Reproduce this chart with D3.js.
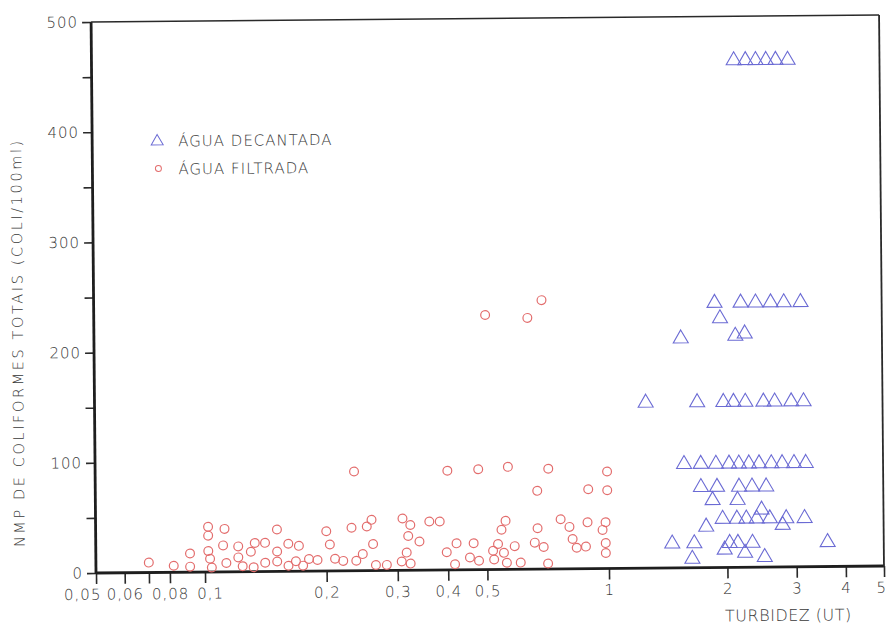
<!DOCTYPE html>
<html>
<head>
<meta charset="utf-8">
<script src="https://cdn.jsdelivr.net/npm/d3@7"></script>
<style>
  body { margin: 0; background: #fff; }
  svg text { font-family: "DejaVu Sans", sans-serif; fill: #3a3a3a; font-weight: 200; }
</style>
</head>
<body>
<svg id="chart" width="888" height="626"></svg>
<script>
// turbidity (UT) vs coliform MPN
var decantadaTurbidez = [2.13, 2.28, 2.42, 2.57, 2.72, 2.92,
  1.88, 2.19, 2.39, 2.61, 2.82, 3.11, 1.94,
  1.54, 2.12, 2.24,
  1.25, 1.69, 1.97, 2.09, 2.24, 2.49, 2.66, 2.93, 3.15,
  1.56, 1.72, 1.88, 2.03, 2.15, 2.28, 2.42, 2.60, 2.77, 2.97, 3.18,
  1.72, 1.89, 2.15, 2.32, 2.52,
  1.84, 2.13, 2.45,
  1.95, 2.12, 2.24, 2.38, 2.57, 2.83, 3.15,
  1.77, 2.77,
  1.45, 1.65, 2.03, 2.13, 2.32, 3.60,
  1.97, 2.22, 1.63, 2.49];
var decantadaNMP = [460, 460, 460, 460, 460, 460,
  240, 240, 240, 240, 240, 240, 226,
  208, 210, 212,
  150, 150, 150, 150, 150, 150, 150, 150, 150,
  94, 94, 94, 94, 94, 94, 94, 94, 94, 94, 94,
  73, 73, 73, 73, 73,
  61, 61, 52,
  44, 44, 44, 44, 44, 44, 44,
  37, 38,
  22, 22, 22, 22, 22, 22,
  16, 13, 8, 9];

var filtradaTurbidez = [0.070, 0.082, 0.091, 0.091, 0.102, 0.102, 0.112, 0.151, 0.200, 0.231,
  0.252, 0.259, 0.111, 0.121, 0.133, 0.141, 0.161, 0.171, 0.204, 0.261,
  0.102, 0.130, 0.151, 0.246, 0.103, 0.104, 0.113, 0.121, 0.124, 0.132,
  0.141, 0.151, 0.161, 0.168, 0.175, 0.181, 0.190, 0.210, 0.220, 0.237,
  0.265, 0.235, 0.282, 0.307, 0.316, 0.323, 0.309, 0.323, 0.319, 0.340,
  0.360, 0.382, 0.397,
  0.400, 0.477, 0.565, 0.711, 0.994, 0.667, 0.892, 0.994,
  0.556, 0.543, 0.667, 0.761, 0.800, 0.887, 0.983, 0.966,
  0.420, 0.463, 0.532, 0.585, 0.656, 0.690, 0.814, 0.833, 0.878, 0.983, 0.983,
  0.416, 0.453, 0.477, 0.517, 0.550, 0.520, 0.559, 0.605, 0.707,
  0.50, 0.636, 0.69];
var filtradaNMP = [9, 6, 17, 5, 41, 33, 39, 38, 36, 39,
  40, 46, 24, 23, 26, 26, 25, 23, 24, 24,
  19, 18, 18, 15, 12, 4, 8, 13, 5, 4,
  8, 9, 5, 9, 5, 11, 10, 11, 9, 9,
  5, 90, 5, 8, 16, 6, 47, 41, 31, 26,
  44, 44, 16,
  90, 91, 93, 91, 88, 71, 72, 71,
  44, 36, 37, 45, 38, 42, 42, 35,
  24, 24, 23, 21, 24, 20, 27, 19, 20, 23, 14,
  5, 11, 8, 17, 15, 9, 6, 6, 5,
  231, 228, 244];

var xTicks = [0.05, 0.06, 0.07, 0.08, 0.1, 0.2, 0.3, 0.4, 0.5, 1, 2, 3, 4, 5];
var xTickLabels = ["0,05", "0,06", "", "0,08", "0,1", "0,2", "0,3", "0,4", "0,5", "1", "2", "3", "4", "5"];
var yTicks = [0, 50, 100, 150, 200, 250, 300, 350, 400, 450, 500];

var legendLabels = ["ÁGUA DECANTADA", "ÁGUA FILTRADA"];

var box = { left: 96, right: 884, top: 22, bottom: 573 };
var blue = "#6b6bd4", red = "#e36d6d";

var svg = d3.select("#chart");

// the scan is tilted a little, so the whole drawing is turned with it
var g = svg.append("g")
    .attr("transform", "rotate(-0.51," + box.left + "," + box.bottom + ")");

// the original axis is log from 0.1 up, squeezed below 0.1
var x = d3.scaleLog()
    .domain([0.05, 0.1, 1, 5])
    .range([box.left, 205, 609, box.right]);

var y = d3.scaleLinear()
    .domain([0, 500])
    .range([box.bottom, box.top]);

// ****************** axes ***************************

var yAxis = g.append("g")
    .attr("transform", "translate(" + box.left + ",0)")
    .call(d3.axisLeft(y)
      .tickValues(yTicks)
      .tickSize(9)
      .tickPadding(4)
      .tickFormat(function(d) { return d % 100 === 0 ? d : ""; }));

var xAxis = g.append("g")
    .attr("transform", "translate(0," + box.bottom + ")")
    .call(d3.axisBottom(x)
      .tickValues(xTicks)
      .tickSize(11)
      .tickPadding(5)
      .tickFormat(function(d, i) { return xTickLabels[i]; }));

[xAxis, yAxis].forEach(function(a) {
  a.select(".domain").remove();
  a.selectAll(".tick line").attr("stroke", "#2a2a2a").attr("stroke-width", 1.6);
  a.selectAll(".tick text")
    .attr("fill", "#3a3a3a")
    .style("font-size", "15px")
    .style("letter-spacing", "1px");
});

// first label sits left of its tick so it does not run into 0,06
xAxis.selectAll(".tick text").filter(function(d, i) { return i === 0; }).attr("dx", -14);
xAxis.selectAll(".tick text").filter(function(d, i) { return i === 4; }).attr("dx", 5);
xAxis.selectAll(".tick text").filter(function(d, i) { return i === xTicks.length - 1; }).attr("dx", -3);

// frame: heavy left/bottom, lighter top/right
g.append("line").attr("x1", box.left).attr("x2", box.left).attr("y1", box.top).attr("y2", box.bottom + 1)
    .attr("stroke", "#1e1e1e").attr("stroke-width", 2.8);
g.append("line").attr("x1", box.left).attr("x2", box.right).attr("y1", box.bottom).attr("y2", box.bottom)
    .attr("stroke", "#1e1e1e").attr("stroke-width", 2.8);
g.append("line").attr("x1", box.left).attr("x2", box.right).attr("y1", box.top).attr("y2", box.top)
    .attr("stroke", "#2a2a2a").attr("stroke-width", 1.6);
g.append("line").attr("x1", box.right).attr("x2", box.right).attr("y1", box.top).attr("y2", box.bottom)
    .attr("stroke", "#2a2a2a").attr("stroke-width", 1.8);

g.append("text")
    .attr("transform", "translate(25,342) rotate(-90)")
    .attr("text-anchor", "middle")
    .style("font-size", "14.5px")
    .style("letter-spacing", "2.6px")
    .text("NMP DE COLIFORMES TOTAIS (COLI/100ml)");

g.append("text")
    .attr("x", 788)
    .attr("y", 627)
    .attr("text-anchor", "middle")
    .style("font-size", "16px")
    .style("letter-spacing", "0.5px")
    .text("TURBIDEZ (UT)");

// ****************** points ***************************

var tri = d3.symbol().type(d3.symbolTriangle).size(97);

g.append("g").selectAll("path")
    .data(decantadaTurbidez)
    .join("path")
    .attr("d", tri)
    .attr("transform", function(d, i) {
      return "translate(" + x(d) + "," + y(decantadaNMP[i]) + ")";
    })
    .attr("fill", "none")
    .attr("stroke", blue)
    .attr("stroke-width", 1.1);

g.append("g").selectAll("circle")
    .data(filtradaTurbidez)
    .join("circle")
    .attr("cx", function(d) { return x(d); })
    .attr("cy", function(d, i) { return y(filtradaNMP[i]); })
    .attr("r", 4.4)
    .attr("fill", "none")
    .attr("stroke", red)
    .attr("stroke-width", 1.2);

// ****************** legend ***************************

var legend = g.append("g").attr("transform", "translate(161,142)");

legend.append("path")
    .attr("d", d3.symbol().type(d3.symbolTriangle).size(62))
    .attr("fill", "none")
    .attr("stroke", blue)
    .attr("stroke-width", 1);

legend.append("circle")
    .attr("cx", 1)
    .attr("cy", 27)
    .attr("r", 3)
    .attr("fill", "none")
    .attr("stroke", red)
    .attr("stroke-width", 1);

legend.selectAll("text")
    .data(legendLabels)
    .join("text")
    .attr("x", 21)
    .attr("y", function(d, i) { return 5 + i * 28; })
    .style("font-size", "15px")
    .style("letter-spacing", "1px")
    .text(function(d) { return d; });
</script>
</body>
</html>
